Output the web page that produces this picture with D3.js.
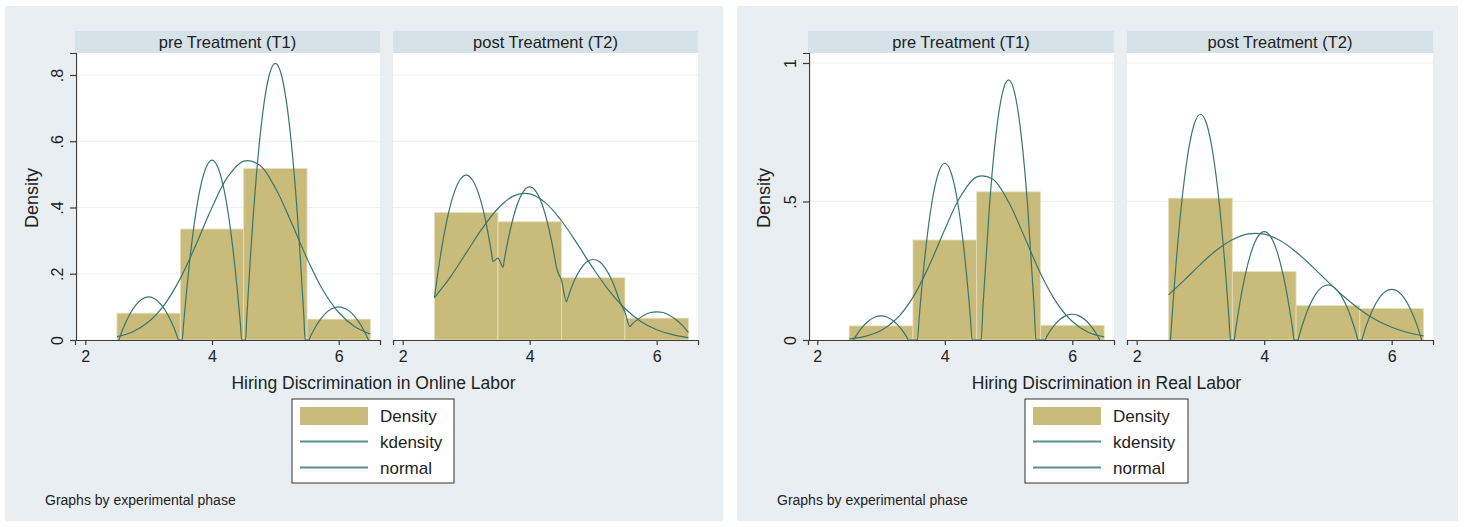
<!DOCTYPE html>
<html>
<head>
<meta charset="utf-8">
<script src="https://cdn.jsdelivr.net/npm/d3@7"></script>
<style>
  html, body { margin: 0; padding: 0; background: #ffffff; }
  svg { display: block; font-family: "Liberation Sans", Arial, sans-serif; }
</style>
</head>
<body>
<svg id="chart" width="1465" height="527"></svg>
<script>
// ---------------- DATA ----------------
const panelTitles = ["pre Treatment (T1)", "post Treatment (T2)"];
const binCenters = [3, 4, 5, 6];
const xTickValues = [2, 4, 6];
const xTickLabels = ["2", "4", "6"];
const yTicksOnline = [0, 0.2, 0.4, 0.6, 0.8];
const yTickLabelsOnline = ["0", ".2", ".4", ".6", ".8"];
const yTicksReal = [0, 0.5, 1];
const yTickLabelsReal = ["0", ".5", "1"];
const legendLabels = ["Density", "kdensity", "normal"];

// histogram densities (bins of width 1 centred on binCenters)
const onlinePreDensity  = [0.081, 0.335, 0.518, 0.063];
const onlinePostDensity = [0.385, 0.357, 0.188, 0.066];
const realPreDensity    = [0.051, 0.361, 0.535, 0.053];
const realPostDensity   = [0.512, 0.247, 0.124, 0.114];

// normal density curves, read at these x positions
const normalX = [2.5, 2.75, 3, 3.25, 3.5, 3.75, 4, 4.25, 4.5, 4.75, 5, 5.25, 5.5, 5.75, 6, 6.25, 6.5];
const onlinePreNormal  = [0.010, 0.025, 0.055, 0.107, 0.186, 0.289, 0.400, 0.493, 0.540, 0.528, 0.459, 0.356, 0.246, 0.151, 0.083, 0.041, 0.018];
const onlinePostNormal = [0.128, 0.190, 0.263, 0.336, 0.397, 0.435, 0.441, 0.414, 0.360, 0.290, 0.216, 0.149, 0.095, 0.056, 0.031, 0.016, 0.007];
const realPreNormal    = [0.004, 0.013, 0.034, 0.078, 0.154, 0.266, 0.399, 0.520, 0.589, 0.581, 0.498, 0.372, 0.241, 0.136, 0.067, 0.028, 0.011];
const realPostNormal   = [0.163, 0.217, 0.273, 0.324, 0.362, 0.383, 0.382, 0.359, 0.318, 0.266, 0.210, 0.157, 0.110, 0.073, 0.046, 0.027, 0.015];

// kernel density curves, [x, density] points
const onlinePreKdensity = [
  [2.53,0],[2.55,0.011],[2.6,0.036],[2.7,0.077],[2.8,0.106],[2.9,0.124],[3.0,0.130],[3.1,0.124],[3.2,0.106],[3.3,0.077],[3.4,0.036],[3.45,0.011],[3.47,0],
  [3.53,0],[3.55,0.045],[3.6,0.150],[3.7,0.322],[3.8,0.445],[3.9,0.518],[4.0,0.543],[4.1,0.518],[4.2,0.445],[4.3,0.322],[4.4,0.150],[4.45,0.045],[4.47,0],
  [4.53,0],[4.55,0.070],[4.6,0.230],[4.7,0.495],[4.8,0.684],[4.9,0.797],[5.0,0.835],[5.1,0.797],[5.2,0.684],[5.3,0.495],[5.4,0.230],[5.45,0.070],[5.47,0],
  [5.53,0],[5.55,0.008],[5.6,0.028],[5.7,0.059],[5.8,0.082],[5.9,0.095],[6.0,0.100],[6.1,0.095],[6.2,0.082],[6.3,0.059],[6.4,0.028],[6.45,0.008],[6.47,0]
];
const onlinePostKdensity = [
  [2.5,0.128],[2.6,0.261],[2.7,0.365],[2.8,0.439],[2.9,0.483],[3.0,0.498],[3.1,0.483],[3.2,0.439],[3.3,0.365],[3.4,0.261],[3.42,0.237],
  [3.5,0.247],[3.58,0.220],[3.6,0.242],[3.7,0.338],[3.8,0.407],[3.9,0.448],[4.0,0.462],[4.1,0.448],[4.2,0.407],[4.3,0.338],[4.4,0.242],[4.42,0.220],
  [4.5,0.181],[4.58,0.116],[4.6,0.127],[4.7,0.178],[4.8,0.214],[4.9,0.236],[5.0,0.243],[5.1,0.236],[5.2,0.214],[5.3,0.178],[5.4,0.127],[5.42,0.116],
  [5.5,0.084],[5.58,0.040],[5.6,0.045],[5.7,0.062],[5.8,0.075],[5.9,0.083],[6.0,0.085],[6.1,0.083],[6.2,0.075],[6.3,0.062],[6.4,0.045],[6.5,0.022]
];
const realPreKdensity = [
  [2.57,0],[2.6,0.012],[2.7,0.045],[2.8,0.068],[2.9,0.082],[3.0,0.087],[3.1,0.082],[3.2,0.068],[3.3,0.045],[3.4,0.012],[3.43,0],
  [3.57,0],[3.6,0.086],[3.7,0.327],[3.8,0.500],[3.9,0.603],[4.0,0.638],[4.1,0.603],[4.2,0.500],[4.3,0.327],[4.4,0.086],[4.43,0],
  [4.57,0],[4.6,0.126],[4.7,0.482],[4.8,0.736],[4.9,0.888],[5.0,0.939],[5.1,0.888],[5.2,0.736],[5.3,0.482],[5.4,0.126],[5.43,0],
  [5.57,0],[5.6,0.013],[5.7,0.048],[5.8,0.073],[5.9,0.088],[6.0,0.093],[6.1,0.088],[6.2,0.073],[6.3,0.048],[6.4,0.013],[6.43,0]
];
const realPostKdensity = [
  [2.53,0],[2.55,0.068],[2.6,0.225],[2.7,0.483],[2.8,0.667],[2.9,0.778],[3.0,0.815],[3.1,0.778],[3.2,0.667],[3.3,0.483],[3.4,0.225],[3.45,0.068],[3.47,0],
  [3.53,0],[3.55,0.033],[3.6,0.108],[3.7,0.232],[3.8,0.320],[3.9,0.373],[4.0,0.391],[4.1,0.373],[4.2,0.320],[4.3,0.232],[4.4,0.108],[4.45,0.033],[4.47,0],
  [4.53,0],[4.55,0.017],[4.6,0.055],[4.7,0.118],[4.8,0.163],[4.9,0.190],[5.0,0.199],[5.1,0.190],[5.2,0.163],[5.3,0.118],[5.4,0.055],[5.45,0.017],[5.47,0],
  [5.53,0],[5.55,0.015],[5.6,0.051],[5.7,0.108],[5.8,0.150],[5.9,0.175],[6.0,0.183],[6.1,0.175],[6.2,0.150],[6.3,0.108],[6.4,0.051],[6.45,0.015],[6.47,0]
];

// ---------------- STYLE / LAYOUT ----------------
const C = {
  pageBg: "#e8eef1",
  header: "#d6e1e8",
  plotBg: "#ffffff",
  grid: "#eef0f0",
  bar: "#c9bc7b",
  barStroke: "#e6dfbd",
  line: "#3a766d",
  legendLine: "#5a8f89",
  axis: "#3a3a3a",
  text: "#222222"
};

const charts = [
  {
    bg: {x: 5, y: 6, w: 718, h: 515},
    panels: [{x0: 75, x1: 380, r0: 85.3, r1: 338.7}, {x0: 393, x1: 698, r0: 402.7, r1: 656.7}],
    yTop: 53, yBottom: 340, yRef: {v: 0.8, px: 75},
    yTicks: yTicksOnline, yLabels: yTickLabelsOnline,
    hist: [onlinePreDensity, onlinePostDensity],
    kd: [onlinePreKdensity, onlinePostKdensity],
    nm: [onlinePreNormal, onlinePostNormal],
    yTitle: {x: 37.5, y: 198},
    xTitle: {x: 373.5, y: 389, text: "Hiring Discrimination in Online Labor"},
    legend: {x: 292, y: 399, w: 162, h: 84},
    note: {x: 45, y: 505}
  },
  {
    bg: {x: 737, y: 6, w: 721, h: 515},
    panels: [{x0: 808, x1: 1114, r0: 817.3, r1: 1072.3}, {x0: 1127, x1: 1433, r0: 1136.7, r1: 1391.7}],
    yTop: 53, yBottom: 340, yRef: {v: 1, px: 63},
    yTicks: yTicksReal, yLabels: yTickLabelsReal,
    hist: [realPreDensity, realPostDensity],
    kd: [realPreKdensity, realPostKdensity],
    nm: [realPreNormal, realPostNormal],
    yTitle: {x: 769.5, y: 198},
    xTitle: {x: 1106.5, y: 389, text: "Hiring Discrimination in Real Labor"},
    legend: {x: 1025, y: 399, w: 163, h: 84},
    note: {x: 777, y: 505}
  }
];

const svg = d3.select("#chart");

charts.forEach(ch => {
  const g = svg.append("g");
  g.append("rect").attr("x", ch.bg.x).attr("y", ch.bg.y).attr("width", ch.bg.w).attr("height", ch.bg.h).attr("fill", C.pageBg);

  // y scale: anchored on 0 at bottom and a reference tick
  const yRef = d3.scaleLinear().domain([0, ch.yRef.v]).range([ch.yBottom, ch.yRef.px]);
  const y = d3.scaleLinear().domain([0, yRef.invert(ch.yTop)]).range([ch.yBottom, ch.yTop]);

  ch.panels.forEach((p, pi) => {
    const xRef = d3.scaleLinear().domain([2, 6]).range([p.r0, p.r1]);
    const x = d3.scaleLinear().domain([xRef.invert(p.x0), xRef.invert(p.x1)]).range([p.x0, p.x1]);

    // header strip
    g.append("rect").attr("x", p.x0).attr("y", 31).attr("width", p.x1 - p.x0).attr("height", 22).attr("fill", C.header);
    g.append("text").attr("x", (p.x0 + p.x1) / 2).attr("y", 48).attr("text-anchor", "middle")
      .attr("font-size", 16.5).attr("fill", C.text).text(panelTitles[pi]);

    // plot background
    g.append("rect").attr("x", p.x0).attr("y", ch.yTop).attr("width", p.x1 - p.x0).attr("height", ch.yBottom - ch.yTop).attr("fill", C.plotBg);

    // gridlines
    g.selectAll(null).data(ch.yTicks.filter(t => t > 0)).enter().append("line")
      .attr("x1", p.x0).attr("x2", p.x1).attr("y1", d => y(d)).attr("y2", d => y(d))
      .attr("stroke", C.grid).attr("stroke-width", 1);

    // bars
    g.selectAll(null).data(binCenters.map((c, i) => ({c, v: ch.hist[pi][i]}))).enter().append("rect")
      .attr("x", d => x(d.c - 0.5)).attr("width", d => x(d.c + 0.5) - x(d.c - 0.5))
      .attr("y", d => y(d.v)).attr("height", d => y(0) - y(d.v))
      .attr("fill", C.bar).attr("stroke", C.barStroke).attr("stroke-width", 0.8);

    // kdensity
    const line = d3.line().x(d => x(d[0])).y(d => y(d[1])).curve(d3.curveMonotoneX);
    g.append("path").attr("d", line(ch.kd[pi])).attr("fill", "none").attr("stroke", C.line).attr("stroke-width", 1.2);
    // normal
    const nmPts = normalX.map((xv, i) => [xv, ch.nm[pi][i]]);
    g.append("path").attr("d", d3.line().x(d => x(d[0])).y(d => y(d[1])).curve(d3.curveCatmullRom)(nmPts))
      .attr("fill", "none").attr("stroke", C.line).attr("stroke-width", 1.2);

    // x axis
    const ax = g.append("g").attr("transform", `translate(0,${ch.yBottom})`)
      .call(d3.axisBottom(x).tickValues(xTickValues).tickFormat((d, i) => xTickLabels[i]).tickSizeOuter(0).tickSize(5).tickPadding(6));
    ax.select(".domain").attr("stroke", C.axis).attr("stroke-width", 1.2);
    ax.selectAll(".tick line").attr("stroke", C.axis).attr("stroke-width", 1.2);
    ax.selectAll(".tick text").attr("font-size", 16).attr("fill", C.text).attr("font-family", "Liberation Sans, Arial, sans-serif");

    // y axis only on first panel
    if (pi === 0) {
      const ay = g.append("g").attr("transform", `translate(${p.x0 + 1},0)`)
        .call(d3.axisLeft(y).tickValues(ch.yTicks).tickFormat((d, i) => ch.yLabels[i]).tickSizeOuter(0).tickSize(6));
      ay.select(".domain").attr("stroke", C.axis).attr("stroke-width", 1.2);
      ay.selectAll(".tick line").attr("stroke", C.axis).attr("stroke-width", 1.2);
      ay.selectAll(".tick text")
        .attr("x", 0).attr("y", -13).attr("dy", 0)
        .attr("transform", "rotate(-90)")
        .attr("text-anchor", "middle")
        .attr("font-size", 16).attr("fill", C.text).attr("font-family", "Liberation Sans, Arial, sans-serif");
    }
  });

  // y title
  g.append("text").attr("transform", `translate(${ch.yTitle.x},${ch.yTitle.y}) rotate(-90)`)
    .attr("text-anchor", "middle").attr("font-size", 18).attr("fill", C.text).text("Density");
  // x title
  g.append("text").attr("x", ch.xTitle.x).attr("y", ch.xTitle.y).attr("text-anchor", "middle")
    .attr("font-size", 17.5).attr("fill", C.text).text(ch.xTitle.text);

  // legend
  const L = ch.legend;
  g.append("rect").attr("x", L.x).attr("y", L.y).attr("width", L.w).attr("height", L.h)
    .attr("fill", "#ffffff").attr("stroke", "#333").attr("stroke-width", 1);
  g.append("rect").attr("x", L.x + 8).attr("y", L.y + 8).attr("width", 68).attr("height", 18).attr("fill", C.bar);
  [1, 2].forEach(k => {
    const yy = L.y + 16.5 + k * 26;
    g.append("line").attr("x1", L.x + 8).attr("x2", L.x + 76).attr("y1", yy).attr("y2", yy)
      .attr("stroke", C.legendLine).attr("stroke-width", 2);
  });
  legendLabels.forEach((t, k) => {
    g.append("text").attr("x", L.x + 88).attr("y", L.y + 23 + k * 26).attr("font-size", 17).attr("fill", C.text).text(t);
  });

  // note
  g.append("text").attr("x", ch.note.x).attr("y", ch.note.y).attr("font-size", 14).attr("fill", C.text).text("Graphs by experimental phase");
});
</script>
</body>
</html>
